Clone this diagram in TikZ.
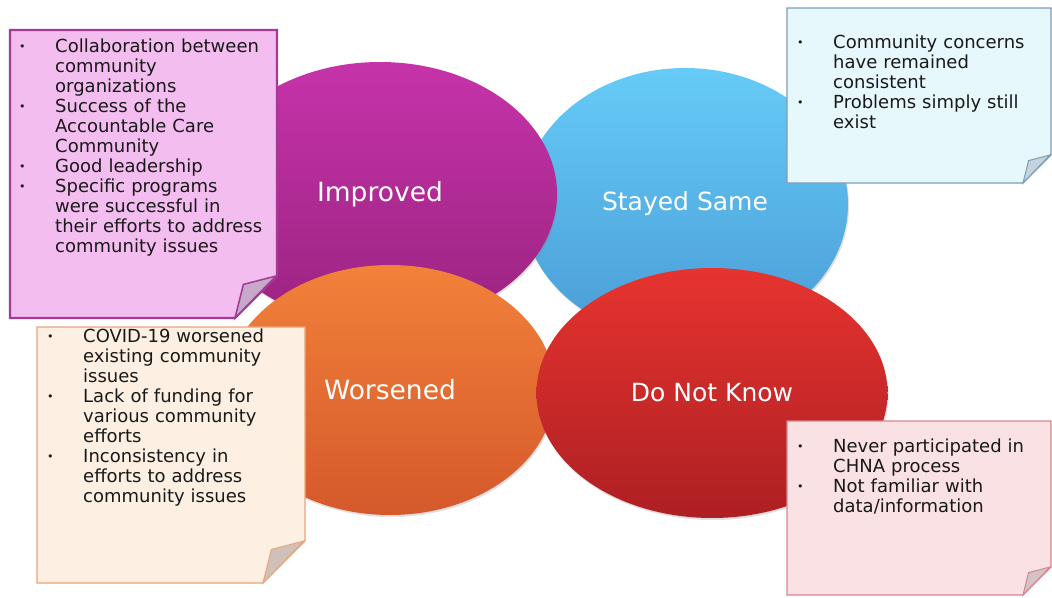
\documentclass[tikz,border=0pt]{standalone}
\usepackage{fontspec}
\setmainfont{DejaVu Sans}
\usetikzlibrary{positioning, shapes.geometric, shadows}
\definecolor{impTop}{HTML}{C633AA}
\definecolor{impBot}{HTML}{9A2380}
\definecolor{sameTop}{HTML}{66CBF7}
\definecolor{sameBot}{HTML}{4A9CD6}
\definecolor{worseTop}{HTML}{F2813A}
\definecolor{worseBot}{HTML}{D5592B}
\definecolor{dnkTop}{HTML}{E6342F}
\definecolor{dnkBot}{HTML}{AE1F23}
\definecolor{pinkFill}{HTML}{F3BDEF}
\definecolor{pinkLine}{HTML}{A23A96}
\definecolor{pinkFold}{HTML}{C8A9CB}
\definecolor{blueFill}{HTML}{E7F8FD}
\definecolor{blueLine}{HTML}{7E9DB2}
\definecolor{blueFold}{HTML}{C3D4DF}
\definecolor{peachFill}{HTML}{FDF0E2}
\definecolor{peachLine}{HTML}{E9A47C}
\definecolor{peachFold}{HTML}{CFC0B9}
\definecolor{roseFill}{HTML}{F9E1E4}
\definecolor{roseLine}{HTML}{D8868E}
\definecolor{roseFold}{HTML}{D3C3C6}
\tikzset{%
  bubble/.style     = {ellipse, inner sep = 0pt, text = white,
    font = {\fontsize{26}{30}\selectfont},
    drop shadow = {opacity = 0.25, shadow xshift = 1pt, shadow yshift = -2pt}},
  notes/.style      = {anchor = north west, inner sep = 0pt, align = left,
    text width = 255pt, text = black!90, font = {\fontsize{18}{20}\selectfont}},
  pinkpaper/.style  = {fill = pinkFill, draw = pinkLine, line width = 2.4pt}, % Improved
  pinkfold/.style   = {fill = pinkFold, draw = pinkLine, line width = 1.5pt},
  bluepaper/.style  = {fill = blueFill, draw = blueLine, line width = 1.2pt}, % Stayed Same
  bluefold/.style   = {fill = blueFold, draw = blueLine, line width = 1pt},
  peachpaper/.style = {fill = peachFill, draw = peachLine, line width = 1.2pt}, % Worsened
  peachfold/.style  = {fill = peachFold, draw = peachLine, line width = 1pt},
  rosepaper/.style  = {fill = roseFill, draw = roseLine, line width = 1.2pt}, % Do Not Know
  rosefold/.style   = {fill = roseFold, draw = roseLine, line width = 1pt}
}
\newcommand{\bitem}[1]{\par\noindent\hangindent=36pt\hangafter=1%
  \makebox[36pt][l]{\rule{0pt}{14pt}\raisebox{1.5pt}{\fontsize{11}{11}\selectfont\textbullet}}#1\par}
\newcommand{\notepaper}[6]{%
  \draw[#6paper] (#1,#2) -- (#3,#2) -- (#3,#4-#5) -- (#3-#5,#4) -- (#1,#4) -- cycle;
  \draw[#6fold] (#3-#5,#4) -- (#3-0.8*#5,#4-0.8*#5) -- (#3-1,#4-#5) -- cycle;
}

\begin{document}
\begin{tikzpicture}[x = 1pt, y = -1pt]
\useasboundingbox (0,0) rectangle (1052,597);
% bubbles
\draw
	(685,204) node [bubble, minimum width = 326pt, minimum height = 272pt,
		top color = sameTop, bottom color = sameBot,
		font = {\fontsize{25}{30}\selectfont}] (same) {Stayed Same}
	(380,194) node [bubble, minimum width = 354pt, minimum height = 264pt,
		top color = impTop, bottom color = impBot,
		font = {\fontsize{26.5}{30}\selectfont}] (imp) {Improved}
	(390,390) node [bubble, minimum width = 330pt, minimum height = 250pt,
		top color = worseTop, bottom color = worseBot,
		font = {\fontsize{26.5}{30}\selectfont}] (worse) {Worsened}
	(712,393) node [bubble, minimum width = 351pt, minimum height = 250pt,
		top color = dnkTop, bottom color = dnkBot,
		font = {\fontsize{25}{30}\selectfont}] (dnk) {Do Not Know};
% note papers
\notepaper{10}{30}{277}{318}{42}{pink}
\notepaper{787}{8}{1051}{183}{28}{blue}
\notepaper{37}{327}{305}{583}{42}{peach}
\notepaper{787}{421}{1051}{595}{28}{rose}
% note texts
\node [notes] (tImp) at (19,32) {%
	\bitem{Collaboration between\newline community\newline organizations}%
	\bitem{Success of the\newline Accountable Care\newline Community}%
	\bitem{Good leadership}%
	\bitem{Specific programs\newline were successful in\newline their efforts to address\newline community issues}};
\node [notes] (tSame) at (797,28) {%
	\bitem{Community concerns\newline have remained\newline consistent}%
	\bitem{Problems simply still\newline exist}};
\node [notes] (tWorse) at (47,322) {%
	\bitem{COVID-19 worsened\newline existing community\newline issues}%
	\bitem{Lack of funding for\newline various community\newline efforts}%
	\bitem{Inconsistency in\newline efforts to address\newline community issues}};
\node [notes] (tDnk) at (797,432) {%
	\bitem{Never participated in\newline CHNA process}%
	\bitem{Not familiar with\newline data/information}};
\end{tikzpicture}
\end{document}
